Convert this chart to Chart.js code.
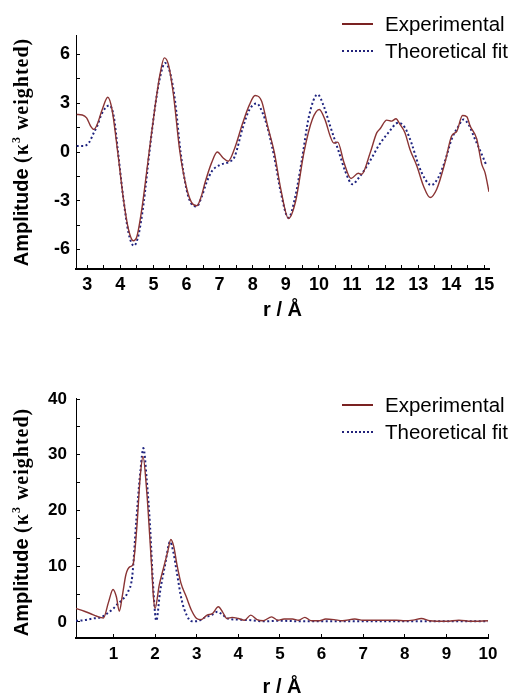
<!doctype html>
<html>
<head>
<meta charset="UTF-8" />
<script src="https://cdn.jsdelivr.net/npm/chart.js"></script>
<style>
  body { margin: 0; background: #fff; }
  #page { position: relative; width: 512px; height: 699px; overflow: hidden; font-family: "Liberation Sans", Arial, sans-serif; }
  canvas { position: absolute; left: 0; }
  #topChart { top: 0; }
  #botChart { top: 340px; }
  .ytitle { position: absolute; left: 21px; transform: translate(-50%, -50%) rotate(-90deg); white-space: nowrap; font-weight: bold; color: #000; line-height: 1; }
  .ytitle .sans { font-family: "Liberation Sans", Arial, sans-serif; font-size: 20px; }
  .ytitle .serif { font-family: "Liberation Serif", "Times New Roman", serif; font-size: 20px; letter-spacing: 1px; }
  .ytitle sup { font-size: 12px; vertical-align: 8px; line-height: 0; }
  .legend { position: absolute; left: 342px; font-size: 20.5px; color: #000; }
  .legend .row { height: 27px; display: flex; align-items: center; white-space: nowrap; }
  .legend .swatch { width: 31px; margin-right: 12px; height: 0; }
  .legend .exp { border-top: 2px solid #7a2222; }
  .legend .fit { border-top: 2px dotted #22227a; }
</style>
</head>
<body>
<div id="page">
  <canvas id="topChart" width="512" height="340"></canvas>
  <canvas id="botChart" width="512" height="359"></canvas>

  <div class="ytitle" style="top:152px"><span class="sans">Amplitude </span><span class="serif">(&kappa;<sup>3</sup> weighted)</span></div>
  <div class="ytitle" style="top:522px"><span class="sans">Amplitude </span><span class="serif">(&kappa;<sup>3</sup> weighted)</span></div>

  <div class="legend" style="top:10px">
    <div class="row"><span class="swatch exp"></span>Experimental</div>
    <div class="row"><span class="swatch fit"></span>Theoretical fit</div>
  </div>
  <div class="legend" style="top:391px">
    <div class="row"><span class="swatch exp"></span>Experimental</div>
    <div class="row"><span class="swatch fit"></span>Theoretical fit</div>
  </div>
</div>
<script>
// top panel: back-transformed EXAFS, r in angstrom
const topExpR = [2.68, 2.85, 2.98, 3.1, 3.2, 3.3, 3.45, 3.62, 3.75, 3.92, 4.1, 4.25, 4.39, 4.5, 4.65, 4.87, 5.05, 5.2, 5.33, 5.45, 5.6, 5.8, 6.0, 6.15, 6.31, 6.45, 6.56, 6.75, 6.93, 7.1, 7.26, 7.45, 7.7, 7.9, 8.07, 8.27, 8.45, 8.65, 8.85, 9.08, 9.3, 9.55, 9.8, 10.01, 10.2, 10.34, 10.45, 10.57, 10.75, 10.97, 11.19, 11.29, 11.55, 11.75, 11.85, 12.05, 12.2, 12.33, 12.45, 12.6, 12.75, 12.96, 13.16, 13.36, 13.56, 13.81, 14.01, 14.17, 14.34, 14.47, 14.57, 14.77, 14.92, 15.02, 15.14];
const topExpAmp = [2.31, 2.28, 2.1, 1.6, 1.39, 1.7, 2.6, 3.37, 2.6, 0.0, -3.0, -4.8, -5.46, -5.2, -3.5, 0.0, 2.8, 4.8, 5.79, 5.4, 3.6, 0.0, -2.2, -3.1, -3.31, -2.7, -1.88, -0.7, 0.0, -0.35, -0.57, 0.2, 1.8, 2.9, 3.48, 3.13, 1.6, 0.0, -2.3, -4.09, -3.0, 0.0, 2.0, 2.62, 1.9, 0.98, 0.55, 0.61, -0.6, -1.63, -1.31, -1.37, -0.04, 1.19, 1.43, 1.96, 1.9, 2.05, 1.7, 1.19, 0.17, -0.86, -2.09, -2.8, -2.29, -0.65, 0.98, 1.29, 2.25, 2.17, 1.6, 0.8, -0.75, -1.27, -2.45];
const topFitR = [2.68, 2.9, 3.05, 3.2, 3.3, 3.45, 3.67, 3.8, 3.93, 4.1, 4.25, 4.41, 4.55, 4.7, 4.88, 5.05, 5.2, 5.35, 5.5, 5.65, 5.82, 6.0, 6.15, 6.31, 6.45, 6.6, 6.76, 7.0, 7.27, 7.45, 7.7, 7.9, 8.12, 8.3, 8.42, 8.65, 8.85, 9.08, 9.28, 9.48, 9.7, 9.96, 10.15, 10.34, 10.6, 10.8, 11.01, 11.2, 11.39, 11.6, 11.8, 12.1, 12.4, 12.6, 12.81, 13.01, 13.21, 13.39, 13.61, 13.81, 14.01, 14.22, 14.37, 14.52, 14.72, 14.92, 15.07];
const topFitAmp = [0.37, 0.37, 0.57, 1.19, 1.6, 2.4, 2.87, 2.2, 0.0, -3.0, -5.0, -5.77, -5.1, -3.2, 0.0, 2.8, 4.6, 5.48, 4.9, 3.2, 0.0, -2.3, -3.2, -3.35, -2.8, -1.9, -1.2, -0.8, -0.62, -0.3, 1.5, 2.6, 2.99, 2.4, 1.7, -0.3, -2.5, -4.05, -2.8, -0.55, 2.2, 3.54, 2.8, 1.6, 0.02, -1.2, -1.98, -1.6, -1.06, -0.35, 0.37, 1.19, 1.8, 1.5, 0.47, -0.8, -1.67, -2.04, -1.57, -0.55, 0.78, 1.6, 2.0, 1.7, 0.78, -0.14, -0.86];

// bottom panel: Fourier transform magnitude
const botExpR = [0.1, 0.3, 0.44, 0.6, 0.76, 0.88, 0.99, 1.07, 1.14, 1.22, 1.3, 1.4, 1.47, 1.56, 1.64, 1.71, 1.8, 1.87, 1.92, 1.96, 2.0, 2.1, 2.2, 2.3, 2.38, 2.45, 2.52, 2.62, 2.75, 2.88, 3.0, 3.1, 3.25, 3.38, 3.52, 3.62, 3.73, 3.85, 4.0, 4.15, 4.3, 4.45, 4.6, 4.8, 4.95, 5.1, 5.3, 5.45, 5.6, 5.75, 5.95, 6.1, 6.3, 6.5, 6.8, 7.0, 7.5, 7.8, 8.0, 8.2, 8.4, 8.6, 9.0, 9.3, 9.6, 10.0];
const botExpAmp = [2.4, 1.9, 1.5, 1.0, 0.7, 3.5, 5.8, 4.5, 1.9, 5.0, 8.5, 9.9, 10.3, 16.8, 25.8, 29.7, 23.4, 15.6, 9.6, 4.5, 2.4, 6.6, 9.6, 12.5, 14.8, 13.5, 10.5, 7.0, 4.5, 2.0, 0.6, 0.4, 1.2, 1.5, 2.7, 1.8, 0.6, 0.8, 0.6, 0.3, 1.2, 0.4, 0.2, 0.9, 0.3, 0.5, 0.5, 0.3, 0.8, 0.2, 0.2, 0.5, 0.4, 0.2, 0.5, 0.3, 0.3, 0.3, 0.2, 0.3, 0.6, 0.2, 0.1, 0.3, 0.1, 0.2];
const botFitR = [0.1, 0.3, 0.5, 0.7, 0.85, 1.0, 1.1, 1.2, 1.35, 1.45, 1.55, 1.65, 1.72, 1.8, 1.88, 1.95, 2.03, 2.12, 2.24, 2.36, 2.44, 2.52, 2.64, 2.76, 2.88, 3.0, 3.2, 3.35, 3.5, 3.6, 3.75, 4.0, 4.3, 4.6, 5.0, 5.5, 6.0, 7.0, 8.0, 9.0, 10.0];
const botFitAmp = [0.2, 0.3, 0.6, 0.8, 1.5, 2.4, 3.2, 3.9, 5.4, 8.1, 18.3, 27.3, 31.2, 25.5, 17.1, 6.9, 0.2, 5.4, 10.2, 14.4, 12.5, 9.0, 3.9, 1.2, 0.1, 0.1, 0.8, 1.2, 1.8, 1.4, 0.6, 0.4, 0.3, 0.1, 0.2, 0.1, 0.1, 0.1, 0.1, 0.1, 0.1];

// tick positions (minor ticks get no label)
const topXTicks = [3, 3.5, 4, 4.5, 5, 5.5, 6, 6.5, 7, 7.5, 8, 8.5, 9, 9.5, 10, 10.5, 11, 11.5, 12, 12.5, 13, 13.5, 14, 14.5, 15];
const topYTicks = [-6, -4.5, -3, -1.5, 0, 1.5, 3, 4.5, 6];
const botXTicks = [1, 2, 3, 4, 5, 6, 7, 8, 9, 10];
const botYTicks = [0, 5, 10, 15, 20, 25, 30, 35, 40];

const FONT = '"Liberation Sans", Arial, sans-serif';
const expColor = '#8a3434';
const fitColor = '#1f2480';

function pts(rs, amps) {
    return rs.map((r, i) => ({x: r, y: amps[i]}));
}

function makeChart(id, o) {
    const tickMark = {display: true, drawOnChartArea: false, drawTicks: true, tickLength: -4, color: '#000', lineWidth: 1};
    return new Chart(document.getElementById(id), {
        type: 'line',
        data: {
            datasets: [{
                label: 'Experimental',
                data: pts(o.expR, o.expAmp),
                borderColor: expColor,
                borderWidth: 1.4,
                pointRadius: 0,
                cubicInterpolationMode: 'monotone'
            }, {
                label: 'Theoretical fit',
                data: pts(o.fitR, o.fitAmp),
                borderColor: fitColor,
                borderWidth: 2,
                borderDash: [2, 2.5],
                pointRadius: 0,
                cubicInterpolationMode: 'monotone'
            }]
        },
        options: {
            responsive: false,
            animation: false,
            devicePixelRatio: 1,
            layout: {padding: {top: o.padTop, right: o.padRight, left: 0, bottom: 0}},
            plugins: {legend: {display: false}, tooltip: {enabled: false}},
            scales: {
                x: {
                    type: 'linear',
                    min: o.xMin, max: o.xMax,
                    afterBuildTicks: s => { s.ticks = o.xTicks.map(v => ({value: v})); },
                    afterFit: s => { s.height = o.xHeight; },
                    grid: tickMark,
                    border: {display: true, color: '#000', width: 2},
                    ticks: {
                        color: '#000', autoSkip: false, maxRotation: 0, padding: o.xPad,
                        font: {family: FONT, size: o.tickSize, weight: 'bold'},
                        callback: v => Number.isInteger(v) ? String(v) : ''
                    },
                    title: {
                        display: true, text: 'r / Å', color: '#000',
                        font: {family: FONT, size: 20, weight: 'bold'},
                        padding: {top: 0, bottom: o.titlePad}
                    }
                },
                y: {
                    type: 'linear',
                    min: o.yMin, max: o.yMax,
                    afterBuildTicks: s => { s.ticks = o.yTicks.map(v => ({value: v})); },
                    afterFit: s => { s.width = 76; },
                    grid: tickMark,
                    border: {display: true, color: '#000', width: 1},
                    ticks: {
                        color: '#000', autoSkip: false, padding: o.yPad,
                        font: {family: FONT, size: o.tickSize, weight: 'bold'},
                        callback: v => (v % o.yLabelEvery === 0) ? String(v) : ''
                    }
                }
            }
        }
    });
}

makeChart('topChart', {
    expR: topExpR, expAmp: topExpAmp, fitR: topFitR, fitAmp: topFitAmp,
    xMin: 2.66, xMax: 15.14, yMin: -7.2, yMax: 7.2,
    xTicks: topXTicks, yTicks: topYTicks, yLabelEvery: 3,
    padTop: 35, padRight: 23, xHeight: 71, xPad: 9, yPad: 10, titlePad: 18, tickSize: 18
});

makeChart('botChart', {
    expR: botExpR, expAmp: botExpAmp, fitR: botFitR, fitAmp: botFitAmp,
    xMin: 0.1, xMax: 10, yMin: -2.9, yMax: 40.2,
    xTicks: botXTicks, yTicks: botYTicks, yLabelEvery: 10,
    padTop: 58, padRight: 24, xHeight: 61, xPad: 10, yPad: 13, titlePad: 0, tickSize: 17
});
</script>
</body>
</html>
